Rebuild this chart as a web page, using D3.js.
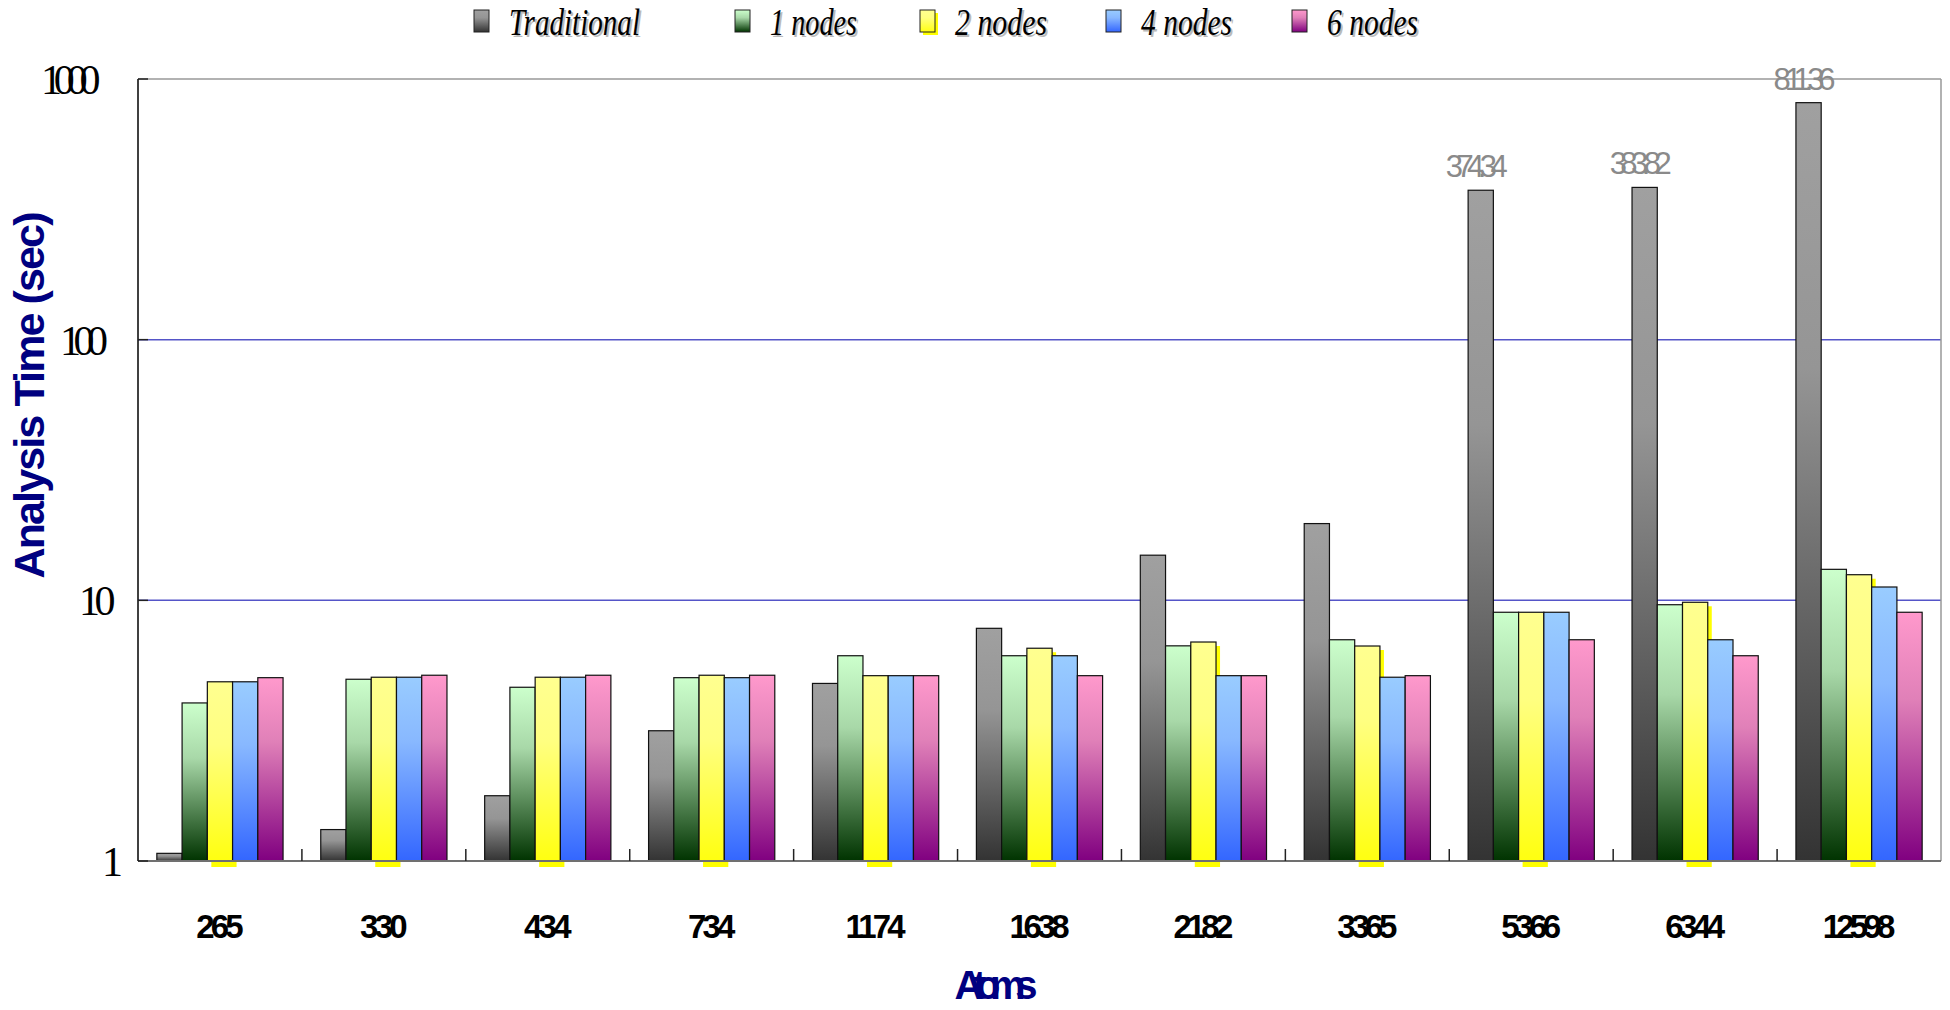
<!DOCTYPE html>
<html><head><meta charset="utf-8">
<script src="https://cdn.jsdelivr.net/npm/d3@7"></script>
<style>html,body{margin:0;padding:0;background:#fff;overflow:hidden}</style>
</head><body>
<svg id="chart" width="1950" height="1010"></svg>
<script>
const categories = ["265","330","434","734","1174","1638","2182","3365","5366","6344","12598"];
const seriesNames = ["Traditional","1 nodes","2 nodes","4 nodes","6 nodes"];
const traditional = [1.07,1.32,1.78,3.16,4.80,7.81,14.9,19.7,374.34,383.82,811.36];
const nodes1 = [4.04,4.98,4.64,5.05,6.13,6.13,6.69,7.06,9.00,9.62,13.15];
const nodes2 = [4.87,5.07,5.07,5.16,5.14,6.55,6.92,6.68,9.00,9.83,12.54];
const nodes4 = [4.87,5.07,5.07,5.05,5.14,6.13,5.14,5.07,9.00,7.06,11.25];
const nodes6 = [5.05,5.16,5.16,5.16,5.14,5.14,5.14,5.14,7.06,6.13,9.00];
const yTicks = [1,10,100,1000];
const yTickLabels = ["1","10","100","1000"];
const yTitle = "Analysis Time (sec)";
const xTitle = "Atoms";

const seriesValues = [traditional,nodes1,nodes2,nodes4,nodes6];
const grads = [["#a0a0a0","#959595","#333333"],["#ccffcc","#a8d8a8","#003300"],["#ffff90","#ffff80","#ffff10"],["#99ccff","#88b8ff","#3366ff"],["#ff99cc","#e080b8","#800080"]];

const svg = d3.select("#chart");
const L=138,R=1941,T=79,B=861;
const x0 = d3.scaleBand().domain(categories).range([L,R]).paddingInner(0.23).paddingOuter(0.115);
const x1 = d3.scaleBand().domain(seriesNames).range([0,x0.bandwidth()]);
const y = d3.scaleLog().domain([1,1000]).range([B,T]);

const defs = svg.append("defs");
seriesNames.forEach((s,i)=>{
  const g = defs.append("linearGradient").attr("id","g"+i).attr("x1",0).attr("y1",0).attr("x2",0).attr("y2",1);
  g.append("stop").attr("offset","0%").attr("stop-color",grads[i][0]);
  g.append("stop").attr("offset","35%").attr("stop-color",grads[i][1]);
  g.append("stop").attr("offset","100%").attr("stop-color",grads[i][2]);
});

svg.append("g").selectAll("line").data(yTicks.filter(t=>t>1&&t<1000)).join("line")
  .attr("x1",L).attr("x2",R).attr("y1",d=>y(d)).attr("y2",d=>y(d))
  .attr("stroke","#5555c8").attr("stroke-width",1.5);
svg.append("line").attr("x1",L).attr("x2",R).attr("y1",T).attr("y2",T).attr("stroke","#999").attr("stroke-width",1.5);
svg.append("line").attr("x1",R).attr("x2",R).attr("y1",T).attr("y2",B).attr("stroke","#999").attr("stroke-width",1.5);

const groups = svg.append("g").selectAll("g").data(categories).join("g")
  .attr("transform",c=>`translate(${x0(c)},0)`);
groups.each(function(c,ci){
  const g = d3.select(this);
  const rows = seriesNames.map((s,si)=>({s,si,v:seriesValues[si][ci]}));
  g.selectAll("rect.sh").data(rows.filter(r=>r.si===2)).join("rect").attr("class","sh")
    .attr("x",r=>x1(r.s)+4).attr("y",r=>y(r.v)+4).attr("width",x1.bandwidth()).attr("height",r=>B-y(r.v)+2)
    .attr("fill","#ffff00");
  g.selectAll("rect.bar").data(rows).join("rect").attr("class","bar")
    .attr("x",r=>x1(r.s)).attr("y",r=>y(r.v)).attr("width",x1.bandwidth()).attr("height",r=>B-y(r.v))
    .attr("fill",r=>`url(#g${r.si})`).attr("stroke","#111").attr("stroke-width",1.2);
  g.selectAll("text.val").data(rows.filter(r=>r.si===0 && r.v>100)).join("text").attr("class","val")
    .attr("x",r=>x1(r.s)+x1.bandwidth()/2-4).attr("y",r=>y(r.v)-13)
    .attr("text-anchor","middle").attr("font-family","Liberation Sans").attr("font-size",31)
    .attr("fill","#8a8a8a").attr("textLength",62).attr("lengthAdjust","spacing")
    .text(r=>r.v.toFixed(2));
});

svg.append("line").attr("x1",L).attr("x2",R).attr("y1",B).attr("y2",B).attr("stroke","#707070").attr("stroke-width",2);
svg.append("line").attr("x1",L).attr("x2",L).attr("y1",T).attr("y2",B).attr("stroke","#000").attr("stroke-width",1.5);
svg.append("g").selectAll("line").data(yTicks).join("line")
  .attr("x1",L).attr("x2",L+10).attr("y1",d=>y(d)).attr("y2",d=>y(d)).attr("stroke","#222").attr("stroke-width",1.5);
const step = x0.step();
svg.append("g").selectAll("line").data(categories.slice(1)).join("line")
  .attr("x1",c=>x0(c)-step*0.115).attr("x2",c=>x0(c)-step*0.115)
  .attr("y1",B).attr("y2",B-12).attr("stroke","#222").attr("stroke-width",1.5);

svg.append("g").selectAll("text").data(yTicks).join("text")
  .attr("x",(d,i)=>123-7.5*(yTickLabels[i].length-1))
  .attr("y",d=>y(d)+15)
  .attr("text-anchor","end").attr("font-family","Liberation Serif").attr("font-size",42).attr("fill","#000")
  .attr("textLength",(d,i)=>25+11.5*(yTickLabels[i].length-1)).attr("lengthAdjust","spacing")
  .text((d,i)=>yTickLabels[i]);

svg.append("g").selectAll("text").data(categories).join("text")
  .attr("x",c=>x0(c)+x0.bandwidth()/2).attr("y",938)
  .attr("text-anchor","middle").attr("font-family","Liberation Sans").attr("font-weight","bold")
  .attr("font-size",33).attr("fill","#000")
  .attr("textLength",c=>10+12.5*c.length).attr("lengthAdjust","spacing")
  .text(c=>c);

svg.append("text").attr("transform","translate(44,395) rotate(-90)")
  .attr("text-anchor","middle").attr("font-family","Liberation Sans").attr("font-weight","bold")
  .attr("font-size",43).attr("fill","#000080").attr("textLength",367).attr("lengthAdjust","spacing")
  .text(yTitle);
svg.append("text").attr("x",996).attr("y",999)
  .attr("text-anchor","middle").attr("font-family","Liberation Sans").attr("font-weight","bold")
  .attr("font-size",40).attr("fill","#000080").attr("textLength",83).attr("lengthAdjust","spacing")
  .text(xTitle);

const legX = [474,735,920,1106,1292];
const legW = [131,87,92,91,91];
const leg = svg.append("g").selectAll("g").data(seriesNames).join("g")
  .attr("transform",(s,i)=>`translate(${legX[i]},0)`);
leg.filter((s,i)=>i===2).append("rect").attr("x",3).attr("y",13).attr("width",15).attr("height",22).attr("fill","#ffff00");
leg.append("rect").attr("x",0).attr("y",10).attr("width",15).attr("height",22)
  .attr("fill",(s,i)=>`url(#g${i})`).attr("stroke","#222").attr("stroke-width",1);
leg.append("text").attr("x",37).attr("y",37).attr("fill","#bbb")
  .attr("font-family","Liberation Serif").attr("font-style","italic").attr("font-size",38)
  .attr("textLength",(s,i)=>legW[i]).attr("lengthAdjust","spacingAndGlyphs").text(s=>s);
leg.append("text").attr("x",35).attr("y",35).attr("fill","#000")
  .attr("font-family","Liberation Serif").attr("font-style","italic").attr("font-size",38)
  .attr("textLength",(s,i)=>legW[i]).attr("lengthAdjust","spacingAndGlyphs").text(s=>s);
</script>
</body></html>
